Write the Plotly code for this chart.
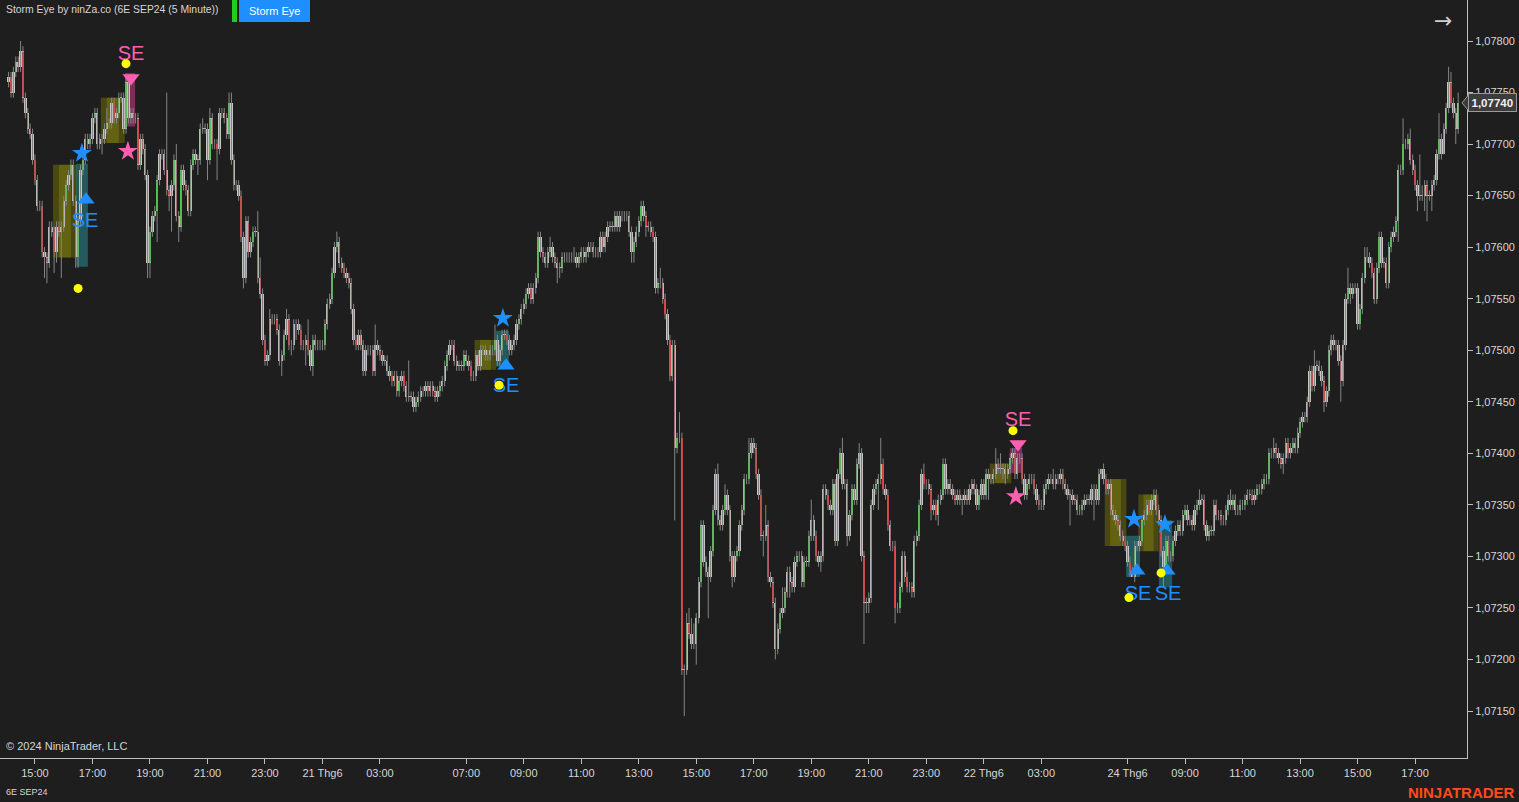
import numpy as np
import pandas as pd
import plotly.graph_objects as go

# ---------------- data (prices in pips above 1.07000) ----------------
BASE = 1.07
PIP = 0.0001
FIRST_OPEN_PIPS = 76.0

CLOSE_PIPS = [
    76.5, 75, 77, 78, 77.5, 79, 74.5, 73, 71.5, 71,
    68.5, 66.5, 64, 64, 59.5, 59, 58.5, 62, 61.5, 59.5,
    62, 61.5, 62, 64.5, 66, 67, 68, 64.5, 59, 62.5,
    67.5, 68.5, 70.5, 70, 70.5, 72.5, 73, 70, 70.5, 70.5,
    71.5, 72, 72, 74, 72.5, 73, 74.5, 74.5, 71.5, 76,
    72.5, 73, 72.5, 72.5, 68, 70.5, 69.5, 67, 58.5, 61.5,
    63, 63.5, 66.5, 69, 69, 67.5, 65.5, 65, 66, 68.5,
    63, 62, 67.5, 66, 65.5, 63.5, 68, 69, 68.5, 68.5,
    71.5, 71.5, 71.5, 68.5, 72.5, 70, 70, 69.5, 73, 73,
    72.5, 71, 74, 68.5, 66, 66, 65, 61, 57, 62.5,
    59.5, 60.5, 61.5, 61.5, 57, 55.5, 51, 49, 49.5, 53,
    53, 53, 52, 49, 49.5, 51.5, 53, 50.5, 50.5, 52.5,
    52.5, 52, 50.5, 50.5, 51, 50, 48.5, 51, 50.5, 50.5,
    50.5, 50.5, 52.5, 54.5, 55, 57.5, 60, 60.5, 58.5, 58,
    57.5, 57, 56.5, 54, 51, 50.5, 51.5, 50.5, 48, 50,
    50, 50, 48, 50.5, 50, 49.5, 49, 49, 48, 47.5,
    47, 47.5, 46, 47, 47.5, 46.5, 45.5, 45.5, 45.5, 44.5,
    45, 45.5, 46, 46, 46.5, 46, 46.5, 46, 45.5, 46,
    46.5, 47, 48.5, 49.5, 50.5, 50.5, 49, 48.5, 48.5, 48.5,
    49.5, 49, 48.5, 47.5, 47.5, 49.5, 48.5, 50, 50, 49.5,
    49.5, 50, 50, 51, 49, 50, 51.5, 51.5, 51, 50,
    50.5, 51, 52.5, 53, 54, 54.5, 55.5, 56, 55, 56,
    57, 61, 59.5, 59, 58.5, 59.5, 60, 59, 58.5, 58,
    58, 59, 59, 59, 59, 59, 59, 58.5, 59, 59.5,
    59, 59.5, 60, 60, 59.5, 59.5, 59.5, 61, 60, 61,
    62, 62, 62, 63, 62, 63, 63, 63, 63, 61.5,
    59.5, 60.5, 61.5, 62.5, 64, 63, 62, 62, 61.5, 61,
    56, 56.5, 56.5, 55, 53.5, 51, 47.5, 50.5, 40.5, 41.5,
    41.5, 19, 19, 23.5, 22.5, 21.5, 21.5, 24, 27.5, 33,
    29.5, 28.5, 28, 30.5, 34.5, 38, 33.5, 33, 34.5, 36,
    34.5, 30, 28, 30, 30.5, 33, 34.5, 37.5, 37.5, 40,
    41, 40.5, 38, 36, 32, 32, 33, 28, 27.5, 25.5,
    21, 23, 24.5, 25, 26.5, 28.5, 27.5, 27, 29.5, 30,
    30, 27.5, 29.5, 29.5, 32, 33.5, 32, 30, 29.5, 30,
    36.5, 36, 35, 34.5, 37, 31.5, 38, 40, 37, 37,
    32, 34, 36.5, 35.5, 39, 40, 30, 25.5, 25.5, 26,
    35, 36.5, 37, 37.5, 39, 36.5, 36, 33, 31, 31,
    25, 25, 27, 30, 28, 27, 27, 26.5, 31.5, 32,
    35, 38, 37, 37, 36.5, 34.5, 35, 34, 35.5, 36,
    39, 36.5, 37, 36.5, 36, 35.5, 36, 35.5, 35.5, 36,
    35.5, 36.5, 37, 36.5, 35, 36, 37, 36, 38, 37.5,
    37.5, 38, 39, 38.5, 38.5, 38.5, 38, 38.5, 39.5, 40,
    38, 39.5, 39.5, 37.5, 36, 37, 37.5, 37.5, 36.5, 35.5,
    35, 35, 36.5, 37, 37.5, 37.5, 37, 37.5, 37.5, 38,
    37, 36.5, 36, 36, 35.5, 35.5, 34.5, 34.5, 35, 35.5,
    35.5, 35.5, 36.5, 36.5, 35.5, 38, 38.5, 37.5, 36.5, 37,
    34.5, 34, 33.5, 33, 32, 31.5, 31, 29.5, 28.5, 28,
    31, 31, 31.5, 33.5, 34, 35, 34.5, 35.5, 36, 34.5,
    33.5, 30.5, 29, 31.5, 30, 30, 31.5, 32.5, 33, 32.5,
    34, 34.5, 33.5, 33.5, 33, 34.5, 35, 35.5, 35.5, 33,
    32, 32.5, 32.5, 35, 34, 34, 33.5, 33.5, 34.5, 35.5,
    35, 35.5, 34.5, 34.5, 35, 35, 35.5, 36, 36, 35.5,
    36, 36.5, 36.5, 37, 37.5, 37.5, 40, 40, 40.5, 40,
    39.5, 39, 39.5, 41, 40, 40.5, 41, 40.5, 42, 43,
    43.5, 43.5, 45, 48, 46.5, 48.5, 48.5, 48, 47, 45,
    46, 50, 51, 50.5, 50.5, 49, 47, 50.5, 55, 56,
    55.5, 56, 56, 52.5, 54, 57, 59, 59, 58.5, 57.5,
    55, 58, 61, 58.5, 58.5, 56.5, 60, 61, 61.5, 62.5,
    67.5, 67.5, 70, 70, 70.5, 68.5, 67.5, 66, 65, 65,
    65, 66, 65, 65, 66, 66.5, 69, 70.5, 69, 71.5,
    73.5, 76, 74, 73, 71.5, 74,
]

# wick lengths beyond the body, in half-pips (0.00005)
UP_WICK = [
    1,1,1,1,1,2,1,1,1,1,  1,1,1,1,1,1,1,1,1,1,
    1,1,1,1,1,1,1,1,1,1,  1,1,1,1,1,1,1,1,1,1,
    1,3,1,1,1,1,1,1,1,1,  1,1,1,1,1,1,1,1,1,1,
    1,1,1,1,1,1,15,1,1,1, 3,1,1,1,1,1,1,1,1,1,
    1,2,1,1,2,1,1,1,1,1,  1,1,2,2,1,1,1,1,1,1,
    1,1,1,1,4,4,1,1,1,2,  1,1,1,1,1,1,2,1,1,1,
    1,1,1,1,1,4,1,1,1,1,  1,1,1,1,1,1,1,2,1,1,
    1,1,1,1,1,1,1,1,1,1,  1,1,1,4,1,1,1,1,1,1,
    1,1,1,1,1,1,1,7,1,1,  1,1,1,1,1,1,1,1,1,1,
    1,1,1,1,1,1,1,1,1,1,  1,1,1,1,1,1,1,1,1,1,
    1,1,1,3,1,1,1,1,1,1,  1,1,1,1,1,1,1,1,1,1,
    1,1,1,1,1,1,2,1,1,1,  1,1,1,1,1,1,2,1,1,1,
    1,1,1,1,1,1,1,1,1,1,  1,1,1,1,1,1,1,1,1,1,
    1,1,1,1,1,1,1,1,1,1,  1,1,3,1,1,1,1,1,1,1,
    5,1,1,2,3,3,4,1,1,1,  1,1,1,1,1,1,2,1,1,2,
    1,1,1,1,1,1,1,1,1,3,  1,1,1,1,1,1,4,1,1,1,
    1,1,1,4,1,1,1,1,1,1,  1,1,1,1,1,4,1,1,1,1,
    1,1,1,1,1,1,1,1,3,1,  1,1,1,1,1,2,1,1,1,1,
    1,1,1,1,5,1,1,1,1,1,  1,1,1,1,1,1,1,1,1,1,
    1,1,2,1,1,1,1,1,1,1,  1,1,1,1,1,1,1,1,1,1,
    1,1,1,1,1,1,1,1,1,1,  1,1,3,1,3,1,1,1,1,1,
    1,1,1,1,1,1,1,1,1,1,  1,1,1,1,1,1,2,1,1,1,
    1,1,1,1,1,1,1,1,1,1,  1,1,1,1,1,1,0,1,1,1,
    1,1,1,1,1,1,1,1,1,1,  1,1,1,1,1,1,1,1,1,1,
    1,1,1,1,1,1,1,1,1,1,  1,1,1,1,1,1,1,2,1,1,
    1,1,1,1,1,1,1,1,1,1,  2,1,1,1,1,1,1,1,1,1,
    1,1,1,1,1,1,1,1,2,1,  1,1,1,1,1,1,1,1,1,1,
    1,1,1,1,1,3,1,1,1,1,  1,1,1,1,1,1,1,1,1,4,
    1,1,1,1,1,1,2,2,1,1,  1,1,1,1,1,1,1,1,1,1,
    1,1,5,1,1,2,1,1,1,8,  2,1,1,1,1,1,1,5,1,1,
    1,3,2,1,1,2,
]
DN_WICK = [
    1,1,1,1,1,1,1,1,1,1,  1,1,1,1,1,4,4,1,1,4,
    2,1,9,1,1,1,1,1,2,2,  1,1,1,1,1,1,1,1,1,3,
    1,1,1,1,1,1,1,1,1,1,  1,1,1,1,1,1,1,1,3,3,
    1,1,6,1,1,1,1,3,7,1,  1,3,1,1,1,1,1,1,1,3,
    1,1,1,4,1,1,1,6,1,1,  1,1,1,1,1,1,1,1,2,1,
    1,1,1,1,1,1,1,1,1,1,  1,1,1,1,3,1,1,1,2,1,
    3,1,1,1,4,1,1,2,1,1,  1,1,1,1,1,1,1,1,1,1,
    1,1,1,1,1,1,1,1,1,1,  1,1,1,1,1,1,1,1,1,1,
    1,1,1,1,1,1,1,1,1,1,  1,1,1,1,1,1,1,1,1,1,
    1,1,1,1,1,1,1,1,1,1,  1,1,1,1,1,1,1,1,1,1,
    1,1,1,1,1,1,1,1,1,1,  1,1,1,1,1,1,1,1,1,1,
    1,1,1,1,1,1,1,1,1,3,  2,1,1,1,1,1,1,1,1,1,
    1,1,1,1,1,1,1,1,1,1,  1,1,1,1,1,1,1,1,1,1,
    2,2,1,1,1,1,2,1,1,1,  1,1,1,1,1,1,1,1,14,1,
    1,1,9,1,1,1,1,4,1,1,  1,1,8,1,1,1,1,1,1,1,
    1,1,2,1,1,1,1,1,1,1,  1,1,1,1,1,4,1,1,1,1,
    2,1,1,1,1,1,3,1,1,1,  1,1,1,1,1,1,1,1,1,2,
    1,1,1,1,1,1,1,1,1,1,  2,1,1,1,1,1,1,8,2,2,
    1,1,1,5,1,1,1,1,1,1,  3,1,1,1,1,1,1,1,1,1,
    1,1,1,1,1,2,1,1,2,1,  1,1,1,1,1,1,1,1,3,1,
    1,1,1,1,1,1,1,1,1,4,  1,1,1,1,1,2,2,1,1,1,
    1,1,1,1,1,1,1,1,1,1,  1,1,1,1,1,1,1,1,1,1,
    1,1,1,6,1,1,1,1,1,1,  1,1,1,6,1,1,1,1,1,1,
    1,1,1,1,1,1,1,1,1,0,  1,1,1,1,1,1,1,1,1,1,
    1,1,4,1,1,1,1,1,1,1,  1,1,1,1,1,1,1,1,1,1,
    1,1,1,1,1,1,1,1,1,1,  1,1,1,1,1,1,1,1,1,1,
    1,1,1,1,1,1,1,1,1,1,  1,1,2,1,1,1,1,1,1,1,
    1,1,1,1,1,1,1,1,1,2,  1,1,1,1,1,1,4,1,1,1,
    2,1,1,1,1,1,1,1,1,1,  1,1,1,1,1,1,1,1,1,1,
    4,1,1,1,1,1,1,1,3,1,  1,3,5,1,3,1,1,1,1,0,
    1,1,1,1,3,1,
]

# trading sessions (5-minute bars, bar-close timestamps)
SESSIONS = [("2024-06-20 14:05", "2024-06-21 04:00"),
            ("2024-06-21 05:05", "2024-06-22 04:00"),
            ("2024-06-24 05:05", "2024-06-24 18:30")]

# consolidation boxes (bar index span, pips)
BOX_X0 = [18.5, 38.5, 194.5, 409.5, 457.5, 471.5]
BOX_X1 = [28.5, 48.5, 203.5, 418.5, 466.5, 480.0]
BOX_TOP = [68.0, 74.5, 51.0, 39.0, 37.5, 36.0]
BOX_BOT = [59.0, 70.1, 48.1, 37.1, 31.0, 30.5]

# signal zones
BUY_Z_X0 = [28.2, 203.4, 466.4, 480.1]
BUY_Z_X1 = [33.1, 208.8, 472.2, 485.6]
BUY_Z_TOP = [68.1, 51.9, 32.0, 33.5]
BUY_Z_BOT = [58.1, 48.4, 28.0, 27.0]
SELL_Z_X0 = [48.6, 417.9]
SELL_Z_X1 = [52.8, 423.0]
SELL_Z_TOP = [76.9, 40.5]
SELL_Z_BOT = [71.7, 38.1]

# signal markers (bar index, pips)
BUY_TRI_X = [32.3, 207.6, 470.9, 483.5]
BUY_TRI_Y = [64.6, 48.5, 28.6, 28.6]
BUY_STAR_X = [30.6, 206.3, 469.7, 482.6]
BUY_STAR_Y = [69.1, 53.1, 33.6, 33.1]
BUY_TXT_X = [31.9, 207.6, 471.4, 483.9]
BUY_TXT_Y = [62.4, 46.4, 26.3, 26.3]
SELL_TRI_X = [51.1, 421.3]
SELL_TRI_Y = [76.4, 40.9]
SELL_STAR_X = [49.8, 420.4]
SELL_STAR_Y = [69.3, 35.8]
SELL_TXT_X = [51.1, 421.3]
SELL_TXT_Y = [78.6, 43.1]
DOT_X = [29.0, 49.0, 204.7, 419.2, 467.6, 481.0]
DOT_Y = [56.0, 77.8, 46.6, 42.2, 26.0, 28.4]

# ---------------- build ----------------
times = pd.DatetimeIndex(np.concatenate(
    [pd.date_range(s, e, freq="5min").values for s, e in SESSIONS]))
n = len(times)
assert len(CLOSE_PIPS) == n, f"close {len(CLOSE_PIPS)} vs {n}"
assert len(UP_WICK) == n, f"up {len(UP_WICK)} vs {n}"
assert len(DN_WICK) == n, f"dn {len(DN_WICK)} vs {n}"

idx = np.arange(n)
c = BASE + np.array(CLOSE_PIPS) * PIP
o = np.r_[BASE + FIRST_OPEN_PIPS * PIP, c[:-1]]
btop = np.maximum(o, c)
bbot = np.minimum(o, c)
hi = btop + np.array(UP_WICK) * PIP / 2
lo = bbot - np.array(DN_WICK) * PIP / 2

def p(v):
    return BASE + np.asarray(v, dtype=float) * PIP

# x ticks
tickvals, ticktext = [], []
seen = {times[0].date()}
for i, t in enumerate(times):
    if t.minute == 0 and t.hour % 2 == 1:
        if t.date() not in seen:
            seen.add(t.date())
            ticktext.append(f"{t.day} Thg{t.month}")
        else:
            ticktext.append(t.strftime("%H:%M"))
        tickvals.append(i)

BG = "#1e1e1e"
FONT = "Liberation Sans, Arial, sans-serif"
TXT = "#d6d6d6"

fig = go.Figure()

# wicks
wx, wy = [], []
for i in range(n):
    wx += [i, i, None]
    wy += [lo[i], hi[i], None]
fig.add_trace(go.Scatter(x=wx, y=wy, mode="lines",
                         line=dict(color="#858585", width=1),
                         hoverinfo="skip", showlegend=False))

# bodies: outline (gray) + coloured core
min_h = 0.35 * PIP / 10.3  # keep dojis visible as a thin line
height = np.maximum(btop - bbot, min_h)
fill = np.where(c > o, "#40e040", np.where(c < o, "#ff1c1c", "#c8c8c8"))
fig.add_trace(go.Bar(x=idx, y=height, base=bbot, width=0.95,
                     marker=dict(color="#c6c6c6", line=dict(width=0)),
                     hoverinfo="skip", showlegend=False))
fig.add_trace(go.Bar(x=idx, y=np.maximum(height - 2 * min_h, 0), base=bbot + min_h, width=0.55,
                     marker=dict(color=list(fill), line=dict(width=0)),
                     hoverinfo="skip", showlegend=False))

shapes = []
for x0, x1, t, b in zip(BOX_X0, BOX_X1, BOX_TOP, BOX_BOT):
    shapes.append(dict(type="rect", xref="x", yref="y", x0=x0, x1=x1,
                       y0=p(b), y1=p(t), line=dict(width=0),
                       fillcolor="rgba(110,108,10,0.55)", layer="below"))
    w = (x1 - x0)
    shapes.append(dict(type="rect", xref="x", yref="y", x0=x0 + w * 0.25,
                       x1=x1 - w * 0.25, y0=p(b), y1=p(t), line=dict(width=0),
                       fillcolor="rgba(150,148,20,0.35)", layer="below"))
for x0, x1, t, b in zip(BUY_Z_X0, BUY_Z_X1, BUY_Z_TOP, BUY_Z_BOT):
    shapes.append(dict(type="rect", xref="x", yref="y", x0=x0, x1=x1,
                       y0=p(b), y1=p(t), line=dict(width=0),
                       fillcolor="rgba(40,130,135,0.6)", layer="below"))
for x0, x1, t, b in zip(SELL_Z_X0, SELL_Z_X1, SELL_Z_TOP, SELL_Z_BOT):
    shapes.append(dict(type="rect", xref="x", yref="y", x0=x0, x1=x1,
                       y0=p(b), y1=p(t), line=dict(width=0),
                       fillcolor="rgba(200,60,140,0.55)", layer="below"))

BLUE = "#1e8fff"
PINK = "#ff5fb0"
fig.add_trace(go.Scatter(x=BUY_TRI_X, y=p(BUY_TRI_Y), mode="markers",
                         marker=dict(symbol="triangle-up", size=15, color=BLUE),
                         hoverinfo="skip", showlegend=False))
fig.add_trace(go.Scatter(x=BUY_STAR_X, y=p(BUY_STAR_Y), mode="markers",
                         marker=dict(symbol="star", size=15, color=BLUE),
                         hoverinfo="skip", showlegend=False))
fig.add_trace(go.Scatter(x=SELL_TRI_X, y=p(SELL_TRI_Y), mode="markers",
                         marker=dict(symbol="triangle-down", size=15, color=PINK),
                         hoverinfo="skip", showlegend=False))
fig.add_trace(go.Scatter(x=SELL_STAR_X, y=p(SELL_STAR_Y), mode="markers",
                         marker=dict(symbol="star", size=15, color=PINK),
                         hoverinfo="skip", showlegend=False))
fig.add_trace(go.Scatter(x=BUY_TXT_X, y=p(BUY_TXT_Y), mode="text", text=["SE"] * len(BUY_TXT_X),
                         textfont=dict(family=FONT, size=20, color=BLUE),
                         hoverinfo="skip", showlegend=False))
fig.add_trace(go.Scatter(x=SELL_TXT_X, y=p(SELL_TXT_Y), mode="text", text=["SE"] * len(SELL_TXT_X),
                         textfont=dict(family=FONT, size=20, color=PINK),
                         hoverinfo="skip", showlegend=False))
fig.add_trace(go.Scatter(x=DOT_X, y=p(DOT_Y), mode="markers",
                         marker=dict(symbol="circle", size=9, color="#ffff00"),
                         hoverinfo="skip", showlegend=False))

# ---------------- layout ----------------
W, H = 1519, 802
ML, MR, MT, MB = 0, 52, 0, 44
PW, PH = W - ML - MR, H - MT - MB

def px(xp):
    return xp / PW

def py(yp):
    return 1 - yp / PH

# header decorations
shapes.append(dict(type="rect", xref="paper", yref="paper", x0=px(232), x1=px(237),
                   y0=py(22), y1=py(0), line=dict(width=0), fillcolor="#22cc22"))
shapes.append(dict(type="rect", xref="paper", yref="paper", x0=px(239), x1=px(310),
                   y0=py(22), y1=py(0), line=dict(width=0), fillcolor="#1e8fff"))

last = c[-1]
dy = 8.5 / 10.3 * PIP
shapes.append(dict(type="path", xref="paper", yref="y",
                   path=f"M {px(1469)},{last + dy} L {px(1462)},{last} L {px(1469)},{last - dy} Z",
                   fillcolor="#3c3c3c", line=dict(color="#9a9a9a", width=1)))

annotations = [
    dict(text="Storm Eye by ninZa.co (6E SEP24 (5 Minute))", xref="paper", yref="paper",
         x=px(4), y=py(10), xanchor="left", yanchor="middle", showarrow=False,
         font=dict(family=FONT, size=10.4, color=TXT)),
    dict(text="Storm Eye", xref="paper", yref="paper", x=px(274.5), y=py(11),
         xanchor="center", yanchor="middle", showarrow=False,
         font=dict(family=FONT, size=11, color="#ffffff")),
    dict(text="→", xref="paper", yref="paper", x=px(1443), y=py(20),
         xanchor="center", yanchor="middle", showarrow=False,
         font=dict(family="DejaVu Sans", size=22, color="#cfcfcf")),
    dict(text="© 2024 NinjaTrader, LLC", xref="paper", yref="paper", x=px(4), y=py(746),
         xanchor="left", yanchor="middle", showarrow=False,
         font=dict(family=FONT, size=11, color=TXT)),
    dict(text="6E SEP24", xref="paper", yref="paper", x=px(4), y=py(792),
         xanchor="left", yanchor="middle", showarrow=False,
         font=dict(family=FONT, size=9, color=TXT)),
    dict(text="<b>NINJATRADER</b>", xref="paper", yref="paper", x=px(1517), y=py(792),
         xanchor="right", yanchor="middle", showarrow=False,
         font=dict(family=FONT, size=15, color="#ff4b1f")),
    dict(text=f"<b>{last:.5f}</b>".replace(".", ","), xref="paper", yref="y", x=px(1468), y=last,
         xanchor="left", yanchor="middle", showarrow=False,
         font=dict(family=FONT, size=11.5, color="#f2f2f2"),
         bgcolor="#3c3c3c", bordercolor="#9a9a9a", borderwidth=1, borderpad=2.5),
]

ytop = 1.0780 + (41 / 10.3077) * PIP
ybot = 1.0780 - ((758 - 41) / 10.3077) * PIP
xleft = (0 - 8.6) / 2.396
xright = (PW - 8.6) / 2.396

fig.update_layout(
    width=W, height=H, autosize=False,
    margin=dict(l=ML, r=MR, t=MT, b=MB, pad=0),
    paper_bgcolor=BG, plot_bgcolor=BG,
    separators=",.",
    barmode="overlay", bargap=0,
    font=dict(family=FONT, size=11, color=TXT),
    showlegend=False, hovermode=False,
    shapes=shapes, annotations=annotations,
    xaxis=dict(range=[xleft, xright],
               tickvals=tickvals, ticktext=ticktext, showgrid=False, zeroline=False,
               showline=True, linecolor="#bdbdbd", linewidth=1,
               ticks="outside", ticklen=5, tickcolor="#bdbdbd",
               tickfont=dict(family=FONT, size=11, color=TXT)),
    yaxis=dict(range=[ybot, ytop], side="right", showgrid=False, zeroline=False,
               tick0=1.0715, dtick=0.0005, tickformat=".5f",
               showline=True, linecolor="#bdbdbd", linewidth=1,
               ticks="outside", ticklen=5, tickcolor="#bdbdbd",
               tickfont=dict(family=FONT, size=11, color=TXT)),
)

fig.write_html("out.html", include_plotlyjs=True,
               config={"displayModeBar": False, "staticPlot": True},
               post_script="document.body.style.margin='0';document.body.style.overflow='hidden';")
